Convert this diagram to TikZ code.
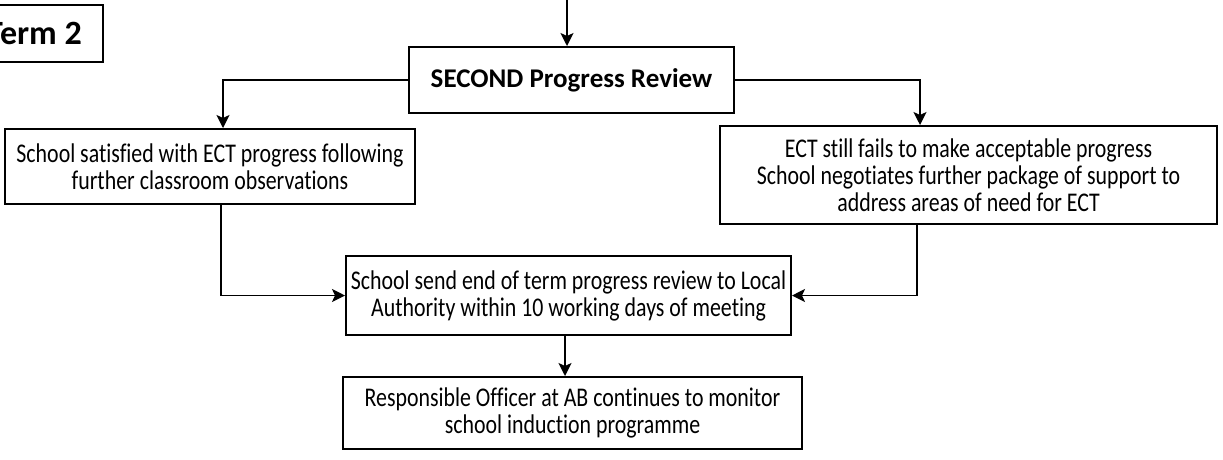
\documentclass[tikz,border=0pt]{standalone}
\usepackage{fontspec}
\setmainfont{Carlito}[Ligatures=NoCommon]
\newfontfamily\narrowfont{Carlito}[FakeStretch=0.81, Ligatures=NoCommon]
\usetikzlibrary{arrows.meta}

\tikzset{
  stage/.style={draw, line width=2pt, align=center, inner sep=0pt,
    font=\narrowfont\fontsize{27}{27}\selectfont},
  heading/.style={stage, font=\bfseries\fontsize{27}{30}\selectfont},
  link/.style={line width=1.6pt, -{Stealth[length=13pt, width=13pt, inset=3pt]}}
}

\begin{document}
\begin{tikzpicture}[x=1pt, y=-1pt]

\useasboundingbox (0, 0) rectangle (1223, 459);

\node[heading, minimum width=138pt, minimum height=57pt, font=\bfseries\fontsize{34}{38}\selectfont] (term) at (34, 33.5) {Term 2};
\node[heading, minimum width=325pt, minimum height=66pt] (review) at (571.5, 80) {SECOND Progress Review};

%Outcomes
\node[stage, minimum width=410pt, minimum height=75pt] (satisfied) at (210, 166.5) {School satisfied with ECT progress following\\further classroom observations};
\node[stage, minimum width=497pt, minimum height=98pt] (fails) at (968.5, 175) {ECT still fails to make acceptable progress\\School negotiates further package of support to\\address areas of need for ECT};

\node[stage, minimum width=445pt, minimum height=79pt] (send) at (568.5, 295.5) {School send end of term progress review to Local\\Authority within 10 working days of meeting};
\node[stage, minimum width=459pt, minimum height=72pt] (officer) at (572.5, 413) {Responsible Officer at AB continues to monitor\\school induction programme};

\coordinate (entry) at (567, 0);

%Connectors
\draw[link] (entry) -- (entry |- review.north);
\draw[link] (review.west) -| ([xshift=13pt]satisfied.north);
\draw[link] (review.east) -| ([xshift=-48.5pt]fails.north);
\draw[link] ([xshift=11pt]satisfied.south) |- (send.west);
\draw[link] ([xshift=-51.5pt]fails.south) |- (send.east);
\draw[link] ([xshift=-3.5pt]send.south) -- ([xshift=-3.5pt]send.south |- officer.north);

\end{tikzpicture}
\end{document}
